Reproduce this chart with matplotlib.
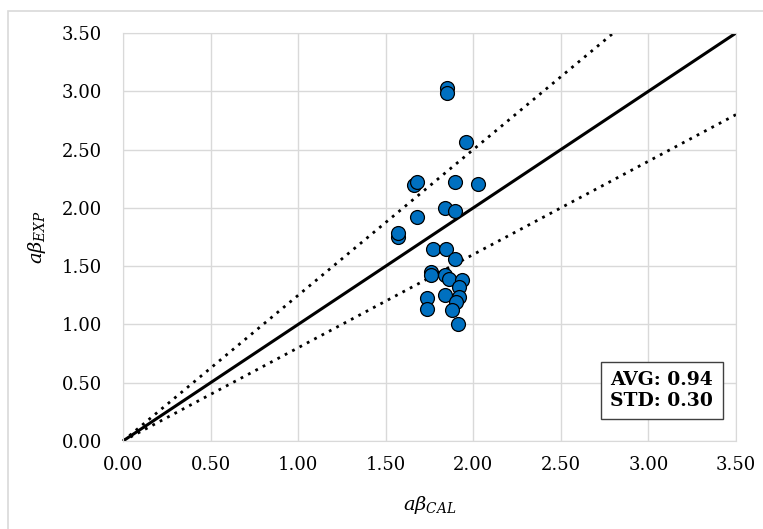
import matplotlib
matplotlib.use("Agg")
import matplotlib.pyplot as plt
from matplotlib.patches import Rectangle

# calculated vs experimental values
ab_cal = [1.851, 1.851, 1.961, 1.661, 1.676, 1.897, 2.026, 1.838, 1.895, 1.676,
          1.570, 1.570, 1.771, 1.843, 1.897, 1.760, 1.760, 1.838, 1.864, 1.938,
          1.920, 1.737, 1.838, 1.920, 1.904, 1.737, 1.881, 1.910]
ab_exp = [3.025, 2.982, 2.567, 2.196, 2.219, 2.224, 2.202, 2.001, 1.973, 1.924,
          1.747, 1.786, 1.649, 1.649, 1.558, 1.452, 1.424, 1.421, 1.392, 1.378,
          1.318, 1.229, 1.252, 1.238, 1.195, 1.130, 1.121, 1.003]
ratio_bounds = [1.25, 0.8]
avg_txt = "AVG: 0.94"
std_txt = "STD: 0.30"
ticks = [0.0, 0.5, 1.0, 1.5, 2.0, 2.5, 3.0, 3.5]

plt.rcParams['font.family'] = ['DejaVu Serif']
plt.rcParams['mathtext.fontset'] = 'dejavuserif'

fig = plt.figure(figsize=(7.63, 5.29), dpi=100)
fig.patches.append(Rectangle((8 / 763, -0.1), 1.2, (529 - 11) / 529 + 0.1,
                             transform=fig.transFigure, fill=False,
                             edgecolor='#d9d9d9', linewidth=1.2))
ax = fig.add_axes([123 / 763, 88 / 529, 613 / 763, 408 / 529])

ax.set_xlim(0, 3.5)
ax.set_ylim(0, 3.5)
ax.set_xticks(ticks)
ax.set_yticks(ticks)
ax.set_xticklabels([f"{t:.2f}" for t in ticks])
ax.set_yticklabels([f"{t:.2f}" for t in ticks])
ax.tick_params(length=0, labelsize=13)
ax.tick_params(axis='y', pad=15)
ax.tick_params(axis='x', pad=11)
ax.grid(True, color='#d9d9d9', linewidth=1)
ax.set_axisbelow(True)
for sp in ax.spines.values():
    sp.set_color('#d9d9d9')

ax.plot([0, 3.5], [0, 3.5], color='black', linewidth=2.2, zorder=2)
for r in ratio_bounds:
    xe = min(3.5, 3.5 / r)
    ax.plot([0, xe], [0, xe * r], color='black', linewidth=2, linestyle=(0, (1, 2)),
            zorder=2, clip_on=False)

ax.scatter(ab_cal, ab_exp, s=100, color='#0070C0', edgecolor='black',
           linewidth=0.9, zorder=3)

ax.set_xlabel(r'$a\beta_{CAL}$', fontsize=14, labelpad=14)
ax.set_ylabel(r'$a\beta_{EXP}$', fontsize=14, labelpad=10)

ax.text(0.963, 0.077, avg_txt + "\n" + std_txt, transform=ax.transAxes,
        ha='right', va='bottom', fontsize=13.5, fontweight='bold', linespacing=1.15,
        bbox=dict(boxstyle='square,pad=0.5', facecolor='white', edgecolor='#404040',
                  linewidth=1))

fig.savefig('out.png', dpi=100)
